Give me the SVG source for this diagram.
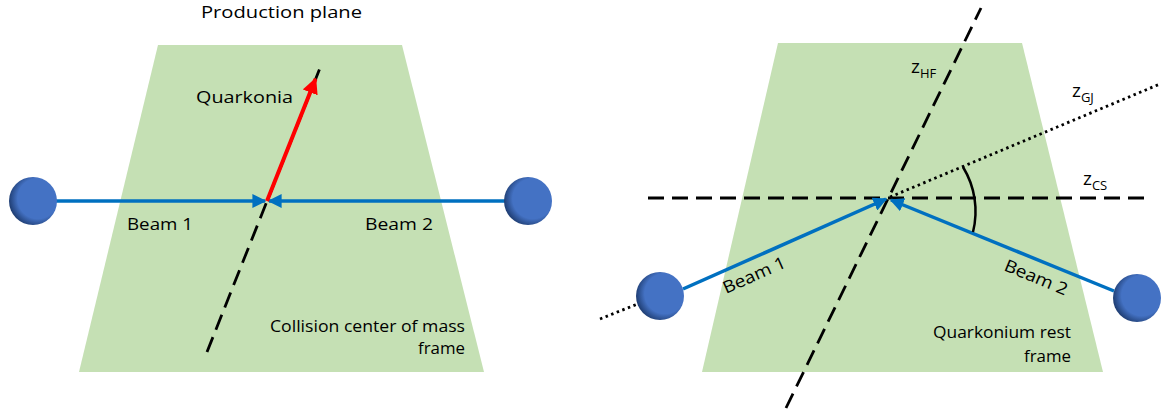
<svg xmlns="http://www.w3.org/2000/svg" width="1164" height="415" viewBox="0 0 1164 415">
<style>
.plane{fill:#C5E0B4}
.beam{stroke:#0070C0;stroke-width:3.5;fill:none}
.dash{stroke:#000;stroke-width:2.8;fill:none;stroke-dasharray:16 8}
.dot{stroke:#000;stroke-width:2.8;fill:none;stroke-dasharray:2.5 3.5}
text{font-family:"Open Sans","Liberation Sans",sans-serif;font-size:17px;fill:#000}
.z{font-size:19px}
.sub{font-size:13px}
</style>
<defs>
<radialGradient id="ball" cx="0.6" cy="0.45" r="0.6">
<stop offset="0" stop-color="#4472C4"/>
<stop offset="0.7" stop-color="#4472C4"/>
<stop offset="1" stop-color="#203F75"/>
</radialGradient>
<marker id="ab" viewBox="0 0 10 10" refX="9" refY="5" markerWidth="4" markerHeight="4" orient="auto" markerUnits="strokeWidth"><path d="M0,0 L10,5 L0,10 z" fill="#0070C0"/></marker>
<marker id="ar" viewBox="0 0 10 10" refX="9" refY="5" markerWidth="4" markerHeight="4" orient="auto" markerUnits="strokeWidth"><path d="M0,0 L10,5 L0,10 z" fill="#FF0000"/></marker>
</defs>
<g id="left-plane"><polygon class="plane" points="158,45 402,45 484,372 79,372"/></g>
<g id="right-plane"><polygon class="plane" points="778,43 1022,43 1103,372 702,372"/></g>
<g id="connectors">
<line class="dash" x1="207" y1="352" x2="322" y2="63"/>
<line class="beam" x1="56" y1="201" x2="265" y2="201" marker-end="url(#ab)"/>
<line class="beam" x1="505" y1="201" x2="269" y2="201" marker-end="url(#ab)"/>
<line stroke="#FF0000" stroke-width="4" x1="267" y1="201" x2="315.5" y2="79" marker-end="url(#ar)"/>
<line class="dash" x1="648" y1="198" x2="1150" y2="198"/>
<line class="dash" x1="786" y1="408" x2="981" y2="8"/>
<line class="dot" x1="600" y1="319" x2="640" y2="303"/>
<line class="dot" x1="890" y1="197" x2="1160" y2="84"/>
<line class="beam" x1="683" y1="289" x2="886" y2="199" marker-end="url(#ab)"/>
<line class="beam" x1="1114" y1="291" x2="891" y2="200" marker-end="url(#ab)"/>
<path d="M963,167 A85,85 0 0 1 973,232" stroke="#000" stroke-width="2.5" fill="none"/>
</g>
<g id="ball-l1"><circle cx="33" cy="201" r="24" fill="url(#ball)"/></g>
<g id="ball-l2"><circle cx="528" cy="201" r="24" fill="url(#ball)"/></g>
<g id="ball-r1"><circle cx="660" cy="296" r="24" fill="url(#ball)"/></g>
<g id="ball-r2"><circle cx="1137" cy="298" r="24" fill="url(#ball)"/></g>
<g id="labels">
<text x="201" y="18" textLength="161" lengthAdjust="spacingAndGlyphs">Production plane</text>
<text x="196" y="103" textLength="97" lengthAdjust="spacingAndGlyphs">Quarkonia</text>
<text x="127" y="230" textLength="66" lengthAdjust="spacingAndGlyphs">Beam 1</text>
<text x="365" y="230" textLength="68" lengthAdjust="spacingAndGlyphs">Beam 2</text>
<text x="270" y="332" textLength="195" lengthAdjust="spacingAndGlyphs">Collision center of mass</text>
<text x="418" y="354" textLength="47" lengthAdjust="spacingAndGlyphs">frame</text>
<text x="933" y="338" textLength="138" lengthAdjust="spacingAndGlyphs">Quarkonium rest</text>
<text x="1024" y="362" textLength="47" lengthAdjust="spacingAndGlyphs">frame</text>
<text class="z" x="911" y="73">z<tspan class="sub" dy="5">HF</tspan></text>
<text class="z" x="1072" y="97">z<tspan class="sub" dy="5">GJ</tspan></text>
<text class="z" x="1083" y="185">z<tspan class="sub" dy="5">CS</tspan></text>
<text transform="translate(726,294) rotate(-24)" textLength="67" lengthAdjust="spacingAndGlyphs">Beam 1</text>
<text transform="translate(1003,270) rotate(22.4)" textLength="67" lengthAdjust="spacingAndGlyphs">Beam 2</text>
</g>
</svg>
